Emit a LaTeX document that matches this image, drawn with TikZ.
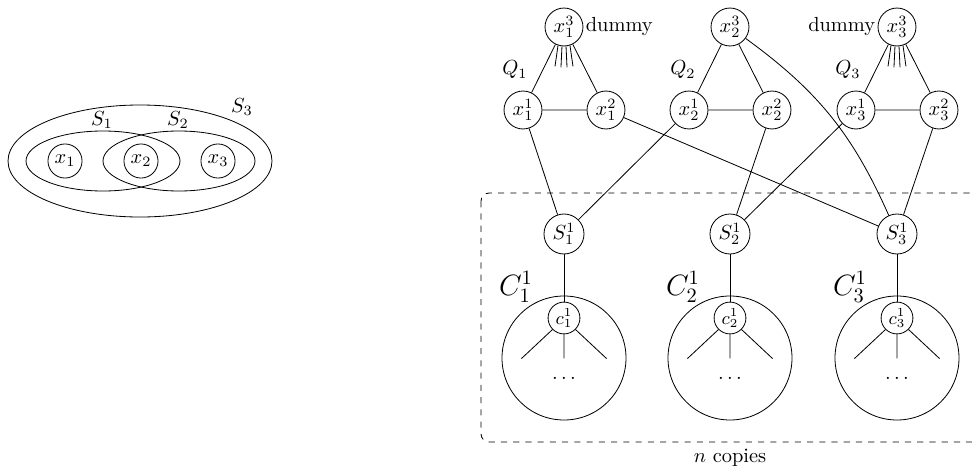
\documentclass[tikz,border=0pt]{standalone}
\usetikzlibrary{positioning}

\begin{document}
\begin{tikzpicture}[x=0.49pt,y=-0.49pt,
 elem/.style={draw,circle,inner sep=0pt,minimum size=16.7pt},
 vtx/.style={draw,circle,inner sep=0pt,minimum size=18.6pt},
 setv/.style={draw,circle,inner sep=0pt,minimum size=19.6pt},
 cv/.style={draw,circle,inner sep=0pt,minimum size=15.6pt,font=\small},
 clab/.style={font=\Large}]
\clip (0,0) rectangle (972,471);
% set system
\draw (140,161) ellipse [x radius=132, y radius=56];
\draw (103,161) ellipse [x radius=77, y radius=30];
\draw (179,161) ellipse [x radius=76, y radius=30];
\node[elem] (e1) at (65,161) {$x_1$};
\node[elem] (e2) at (141,161) {$x_2$};
\node[elem] (e3) at (218,161) {$x_3$};
\node (ls1) at (102,120) {$S_1$};
\node (ls2) at (178,120) {$S_2$};
\node (ls3) at (242,107) {$S_3$};
% element gadgets
\node[vtx] (x13) at (564,27) {$x_1^3$};
\node[vtx] (x23) at (730,27) {$x_2^3$};
\node[vtx] (x33) at (897,27) {$x_3^3$};
\node[vtx] (x11) at (523,110) {$x_1^1$};
\node[vtx] (x12) at (606,110) {$x_1^2$};
\node[vtx] (x21) at (689,110) {$x_2^1$};
\node[vtx] (x22) at (772,110) {$x_2^2$};
\node[vtx] (x31) at (856,110) {$x_3^1$};
\node[vtx] (x32) at (939,110) {$x_3^2$};
\node (q1) at (515,70) {$Q_1$};
\node (q2) at (683,70) {$Q_2$};
\node (q3) at (848,70) {$Q_3$};
\node[anchor=west,inner sep=1pt] (dm1) at (x13.east) {dummy};
\node[anchor=east,inner sep=1pt] (dm3) at (x33.west) {dummy};
\draw (x11) -- (x12) (x11) -- (x13) (x12) -- (x13);
\draw (x21) -- (x22) (x21) -- (x23) (x22) -- (x23);
\draw (x31) -- (x32) (x31) -- (x33) (x32) -- (x33);
\draw (x13.-108) -- ++(-3,21) (x13.-96) -- ++(-1,21)
      (x13.-84) -- ++(1,21) (x13.-72) -- ++(3,21);
\draw (x33.-108) -- ++(-3,21) (x33.-96) -- ++(-1,21)
      (x33.-84) -- ++(1,21) (x33.-72) -- ++(3,21);
% set gadgets
\draw[dashed,rounded corners=4pt] (481,193) rectangle (1000,442);
\node[setv] (s1) at (564,234) {$S_1^1$};
\node[setv] (s2) at (730,234) {$S_2^1$};
\node[setv] (s3) at (897,234) {$S_3^1$};
\draw (x11) -- (s1) (x21) -- (s1);
\draw (x22) -- (s2) (x31) -- (s2);
\draw (x12) -- (s3) (x32) -- (s3);
\draw (x23) to[bend left=15] (s3);
% clause gadgets
\draw (564,358) circle [radius=62];
\draw (730,358) circle [radius=62];
\draw (897,358) circle [radius=62];
\node[cv] (c1) at (564,318) {$c_1^1$};
\node[cv] (c2) at (730,318) {$c_2^1$};
\node[cv] (c3) at (897,318) {$c_3^1$};
\node[clab] (lc1) at (516,287) {$C_1^1$};
\node[clab] (lc2) at (683,287) {$C_2^1$};
\node[clab] (lc3) at (850,287) {$C_3^1$};
\draw (s1) -- (c1) (s2) -- (c2) (s3) -- (c3);
\draw (c1.-135) -- ++(-31,29) (c1.south) -- ++(0,24) (c1.-45) -- ++(31,29);
\draw (c2.-135) -- ++(-31,29) (c2.south) -- ++(0,24) (c2.-45) -- ++(31,29);
\draw (c3.-135) -- ++(-31,29) (c3.south) -- ++(0,24) (c3.-45) -- ++(31,29);
\node (d1) at (564,378) {$\ldots$};
\node (d2) at (730,378) {$\ldots$};
\node (d3) at (897,378) {$\ldots$};
\node (ncp) at (730,458) {$n$ copies};
\end{tikzpicture}
\end{document}
